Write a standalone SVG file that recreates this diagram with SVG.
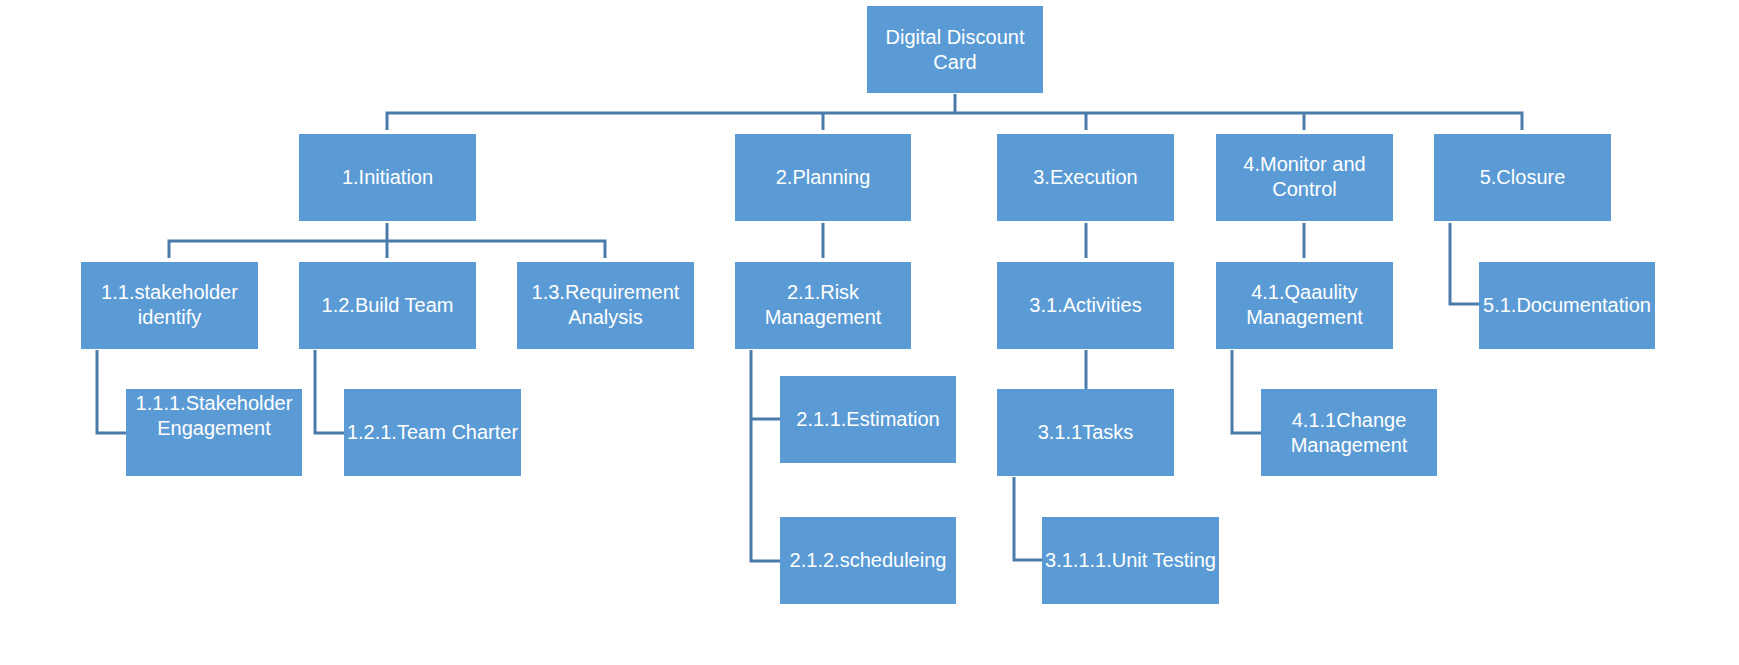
<svg xmlns="http://www.w3.org/2000/svg" width="1739" height="665" viewBox="0 0 1739 665">
<style>
.box{fill:#5B9BD5}
.t{font-family:"Liberation Sans",Arial,sans-serif;font-size:20px;fill:#FFFFFF;text-anchor:middle}
.c{fill:none;stroke:#4A7BAA;stroke-width:3}
</style>
<rect width="1739" height="665" fill="#FFFFFF"/>
<g id="connectors">
<path class="c" d="M955 94V113M387 130V113H1522V130M823 113V130M1086 113V130M1304 113V130"/>
<path class="c" d="M387 223V241M169 258V241H605V258M387 241V258"/>
<path class="c" d="M823 223V258M1086 223V258M1304 223V258"/>
<path class="c" d="M1450 223V304H1479"/>
<path class="c" d="M97 350V433H126M315 350V433H344"/>
<path class="c" d="M751 350V561H780M751 419H780"/>
<path class="c" d="M1086 350V389"/>
<path class="c" d="M1232 350V433H1261"/>
<path class="c" d="M1014 477V560H1042"/>
</g>
<g id="n0"><rect class="box" x="867" y="6" width="176" height="87"/><text class="t" x="955" y="44">Digital Discount</text><text class="t" x="955" y="69">Card</text></g>
<g id="n1"><rect class="box" x="299" y="134" width="177" height="87"/><text class="t" x="387.5" y="184">1.Initiation</text></g>
<g id="n2"><rect class="box" x="735" y="134" width="176" height="87"/><text class="t" x="823" y="184">2.Planning</text></g>
<g id="n3"><rect class="box" x="997" y="134" width="177" height="87"/><text class="t" x="1085.5" y="184">3.Execution</text></g>
<g id="n4"><rect class="box" x="1216" y="134" width="177" height="87"/><text class="t" x="1304.5" y="171">4.Monitor and</text><text class="t" x="1304.5" y="196">Control</text></g>
<g id="n5"><rect class="box" x="1434" y="134" width="177" height="87"/><text class="t" x="1522.5" y="184">5.Closure</text></g>
<g id="n11"><rect class="box" x="81" y="262" width="177" height="87"/><text class="t" x="169.5" y="299">1.1.stakeholder</text><text class="t" x="169.5" y="324">identify</text></g>
<g id="n12"><rect class="box" x="299" y="262" width="177" height="87"/><text class="t" x="387.5" y="312">1.2.Build Team</text></g>
<g id="n13"><rect class="box" x="517" y="262" width="177" height="87"/><text class="t" x="605.5" y="299">1.3.Requirement</text><text class="t" x="605.5" y="324">Analysis</text></g>
<g id="n21"><rect class="box" x="735" y="262" width="176" height="87"/><text class="t" x="823" y="299">2.1.Risk</text><text class="t" x="823" y="324">Management</text></g>
<g id="n31"><rect class="box" x="997" y="262" width="177" height="87"/><text class="t" x="1085.5" y="312">3.1.Activities</text></g>
<g id="n41"><rect class="box" x="1216" y="262" width="177" height="87"/><text class="t" x="1304.5" y="299">4.1.Qaaulity</text><text class="t" x="1304.5" y="324">Management</text></g>
<g id="n51"><rect class="box" x="1479" y="262" width="176" height="87"/><text class="t" x="1567" y="312">5.1.Documentation</text></g>
<g id="n111"><rect class="box" x="126" y="389" width="176" height="87"/><text class="t" x="214" y="410">1.1.1.Stakeholder</text><text class="t" x="214" y="435">Engagement</text></g>
<g id="n121"><rect class="box" x="344" y="389" width="177" height="87"/><text class="t" x="432.5" y="439">1.2.1.Team Charter</text></g>
<g id="n211"><rect class="box" x="780" y="376" width="176" height="87"/><text class="t" x="868" y="426">2.1.1.Estimation</text></g>
<g id="n212"><rect class="box" x="780" y="517" width="176" height="87"/><text class="t" x="868" y="567">2.1.2.scheduleing</text></g>
<g id="n311"><rect class="box" x="997" y="389" width="177" height="87"/><text class="t" x="1085.5" y="439">3.1.1Tasks</text></g>
<g id="n3111"><rect class="box" x="1042" y="517" width="177" height="87"/><text class="t" x="1130.5" y="567">3.1.1.1.Unit Testing</text></g>
<g id="n411"><rect class="box" x="1261" y="389" width="176" height="87"/><text class="t" x="1349" y="427">4.1.1Change</text><text class="t" x="1349" y="452">Management</text></g>
</svg>
